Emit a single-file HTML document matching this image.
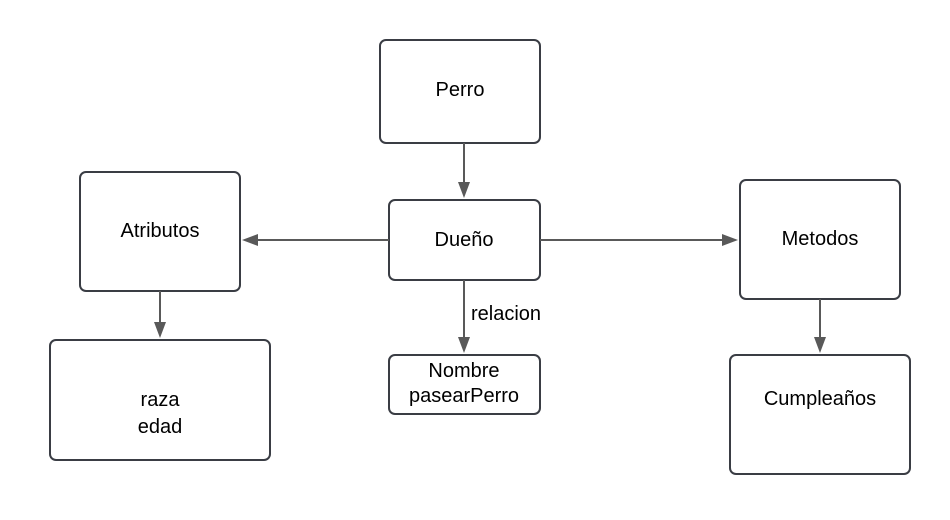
<!DOCTYPE html>
<html><head><style>
body{margin:0;width:950px;height:515px;background:#fff;overflow:hidden}
</style></head><body>
<svg width="950" height="515" xmlns="http://www.w3.org/2000/svg" font-family="Liberation Sans, sans-serif" font-size="20" fill="#000">
<g fill="#fff" stroke="#3a3d44" stroke-width="2">
<rect x="380" y="40" width="160" height="103" rx="6"/>
<rect x="389" y="200" width="151" height="80" rx="6"/>
<rect x="389" y="355" width="151" height="59" rx="6"/>
<rect x="80" y="172" width="160" height="119" rx="6"/>
<rect x="50" y="340" width="220" height="120" rx="6"/>
<rect x="740" y="180" width="160" height="119" rx="6"/>
<rect x="730" y="355" width="180" height="119" rx="6"/>
</g>
<g stroke="#595959" stroke-width="2">
<line x1="464" y1="143" x2="464" y2="184"/>
<line x1="464" y1="280" x2="464" y2="339"/>
<line x1="389" y1="240" x2="256" y2="240"/>
<line x1="540" y1="240" x2="724" y2="240"/>
<line x1="160" y1="291" x2="160" y2="324"/>
<line x1="820" y1="299" x2="820" y2="339"/>
</g>
<g fill="#595959">
<polygon points="458,182 470,182 464,198"/>
<polygon points="458,337 470,337 464,353"/>
<polygon points="258,234 258,246 242,240"/>
<polygon points="722,234 722,246 738,240"/>
<polygon points="154,322 166,322 160,338"/>
<polygon points="814,337 826,337 820,353"/>
</g>
<g text-anchor="middle">
<text x="460" y="96">Perro</text>
<text x="464" y="246">Dueño</text>
<text x="464" y="377">Nombre</text>
<text x="464" y="402">pasearPerro</text>
<text x="160" y="237">Atributos</text>
<text x="160" y="406">raza</text>
<text x="160" y="433">edad</text>
<text x="820" y="245">Metodos</text>
<text x="820" y="405">Cumpleaños</text>
</g>
<text x="471" y="320">relacion</text>
</svg>
</body></html>
